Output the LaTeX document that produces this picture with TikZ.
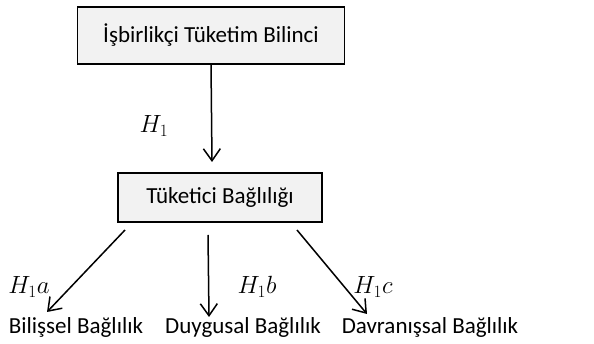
\documentclass[tikz,border=0pt]{standalone}
\usepackage{fontspec}
\setmainfont{Carlito}
\usetikzlibrary{arrows.meta}
\definecolor{boxfill}{HTML}{F2F2F2}
\begin{document}
\begin{tikzpicture}[x=1pt,y=1pt,
  box/.style={draw=black, line width=1.3pt, fill=boxfill, inner sep=0pt},
  lbl/.style={font=\fontsize{23}{27}\selectfont, inner sep=0pt},
  hyp/.style={font=\fontsize{24}{28}\selectfont, inner sep=0pt},
  arr/.style={line width=1.5pt, -{Straight Barb[length=12pt,width=17pt,line width=1.5pt]}}]
\useasboundingbox (0,0) rectangle (594,344);
\node[box, minimum width=267pt, minimum height=57pt, lbl] (top) at (211,308.5) {İşbirlikçi Tüketim Bilinci};
\node[box, minimum width=204pt, minimum height=49pt, lbl] (mid) at (220,146.5) {Tüketici Bağlılığı};
\node[lbl] (b1) at (76,17) {Bilişsel Bağlılık};
\node[lbl] (b2) at (243,17) {Duygusal Bağlılık};
\node[lbl] (b3) at (430,17) {Davranışsal Bağlılık};
\coordinate (t0) at (211,280);
\coordinate (t1) at (212,182);
\coordinate (a0) at (125,114);
\coordinate (a1) at (47,32);
\coordinate (m0) at (208,109);
\coordinate (m1) at (209,27);
\coordinate (c0) at (297,114);
\coordinate (c1) at (367,30);
\draw[arr] (t0) -- (t1);
\draw[arr] (a0) -- (a1);
\draw[arr] (m0) -- (m1);
\draw[arr] (c0) -- (c1);
\node[hyp] (h1) at (154,218) {$H_1$};
\node[hyp] (h1a) at (29,57) {$H_1a$};
\node[hyp] (h1b) at (257,57) {$H_1b$};
\node[hyp] (h1c) at (373,57) {$H_1c$};
\end{tikzpicture}
\end{document}
